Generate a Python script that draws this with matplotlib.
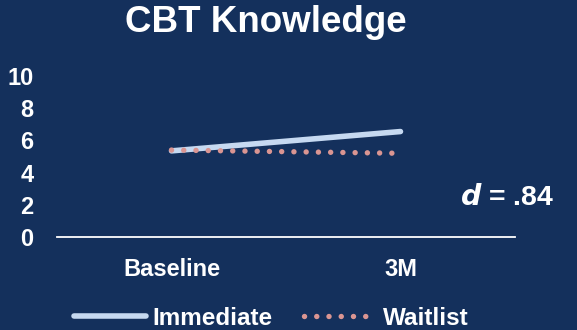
import matplotlib
matplotlib.use("Agg")
import matplotlib.pyplot as plt

# scores at each timepoint
timepoints = ["Baseline", "3M"]
immediate = [5.35, 6.55]
waitlist = [5.4, 5.2]
yticks = [0, 2, 4, 6, 8, 10]

bg = "#14305C"
plt.rcParams["font.family"] = "Liberation Sans"
plt.rcParams["font.weight"] = "bold"

fig = plt.figure(figsize=(5.77, 3.30), dpi=100, facecolor=bg)
ax = fig.add_axes([0.0988, 0.2818, 0.7937, 0.4879], facecolor=bg)

x = range(len(timepoints))
ax.plot(x, immediate, color="#C6D9F1", lw=4.0, solid_capstyle="round", label="Immediate")
ax.plot(x, waitlist, color="#DA9592", lw=3.9, linestyle=(0, (0.01, 2.25)),
        dash_capstyle="round", label="Waitlist")

ax.set_xlim(-0.5, 1.5)
ax.set_ylim(0, 10)
ax.set_xticks(list(x))
ax.set_xticklabels(timepoints)
ax.set_yticks(yticks)
ax.tick_params(axis="both", length=0, colors="white", labelsize=17)
ax.tick_params(axis="y", pad=17)
ax.tick_params(axis="x", pad=15)
for s in ["top", "right", "left"]:
    ax.spines[s].set_visible(False)
ax.spines["bottom"].set_color("white")
ax.spines["bottom"].set_linewidth(1.3)

fig.text(0.461, 0.933, "CBT Knowledge", color="white", fontsize=26.5,
         fontweight="bold", ha="center", va="center")

fig.text(0.797, 0.40, r"$\mathbfit{d}$ = .84", color="white", fontsize=20.5,
         fontweight="bold", ha="left", va="center")

leg = fig.legend(loc="center", bbox_to_anchor=(0.47, 0.036), ncol=2, frameon=False,
                 fontsize=17.5, handlelength=3.0, handletextpad=0.25,
                 columnspacing=1.3, labelcolor="white")

fig.savefig("out.png", dpi=100, facecolor=bg)
